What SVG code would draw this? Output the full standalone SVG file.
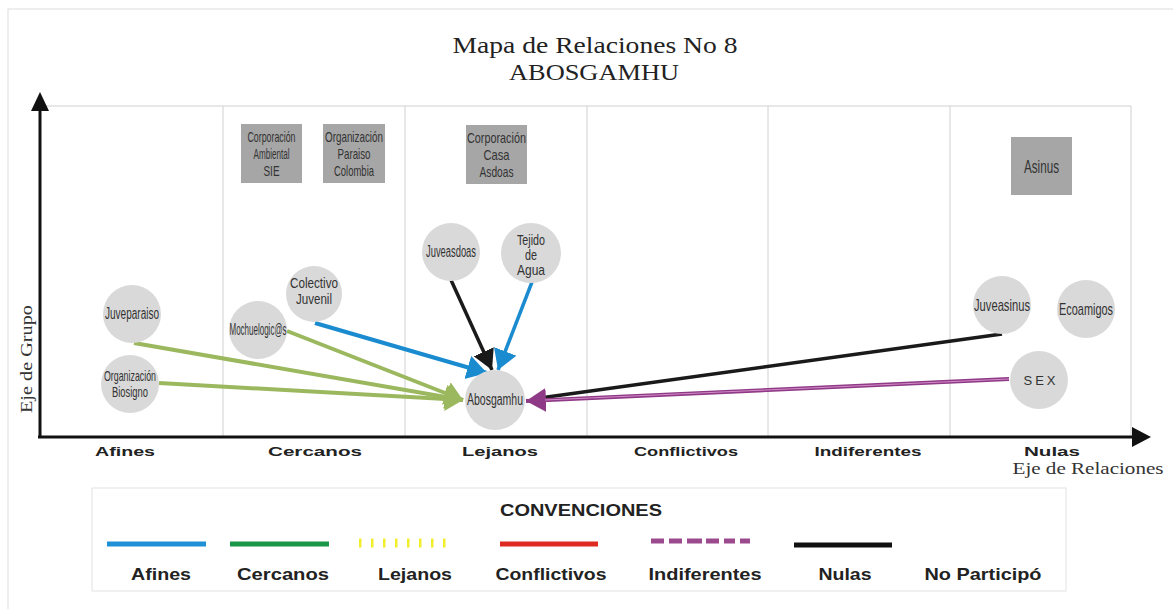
<svg xmlns="http://www.w3.org/2000/svg" width="1173" height="609" viewBox="0 0 1173 609">
<defs>
<style>
.title{font-family:"Liberation Serif",serif;font-size:23px;fill:#222}
.axis{font-family:"Liberation Serif",serif;font-size:17px;fill:#333}
.col{font-family:"Liberation Sans",Arial,sans-serif;font-size:13.5px;font-weight:bold;fill:#222}
.grid{stroke:#d0d0d0;stroke-width:1;fill:none}
.circ{fill:#d9d9d9}
.box{fill:#a6a6a6}
.nt{font-family:"Liberation Sans Narrow","Liberation Sans",Arial,sans-serif;font-size:14.5px;fill:#333;text-anchor:middle}
.big{font-size:16px}
.leg{font-family:"Liberation Sans",Arial,sans-serif;font-size:17px;font-weight:bold;fill:#222;text-anchor:middle}
</style>
<marker id="hGreen" markerUnits="userSpaceOnUse" markerWidth="20" markerHeight="26" refX="18" refY="12" orient="auto"><path d="M0,0 L18,12 L0,24 Z" fill="#9bb85f"/></marker>
<marker id="hBlue" markerUnits="userSpaceOnUse" markerWidth="22" markerHeight="26" refX="20" refY="12" orient="auto"><path d="M0,0 L20,12 L0,24 Z" fill="#1b8bd0"/></marker>
<marker id="hBlack" markerUnits="userSpaceOnUse" markerWidth="22" markerHeight="26" refX="20" refY="11" orient="auto"><path d="M0,0 L20,11 L0,22 Z" fill="#1a1a1a"/></marker>
<marker id="hPurple" markerUnits="userSpaceOnUse" markerWidth="22" markerHeight="26" refX="20" refY="12" orient="auto"><path d="M0,0 L20,12 L0,24 Z" fill="#8e3a86"/></marker>
</defs>
<rect x="0" y="0" width="1173" height="609" fill="#fff"/>
<rect x="8" y="9" width="1200" height="700" fill="none" stroke="#dedede" stroke-width="1"/>

<g id="title">
<text class="title" x="595" y="53" text-anchor="middle" textLength="285" lengthAdjust="spacingAndGlyphs">Mapa de Relaciones No 8</text>
<text class="title" x="594" y="80" text-anchor="middle" textLength="170" lengthAdjust="spacingAndGlyphs">ABOSGAMHU</text>
</g>

<g id="grid">
<line class="grid" x1="44" y1="106" x2="1131" y2="106"/>
<line class="grid" x1="223" y1="106" x2="223" y2="437"/>
<line class="grid" x1="405" y1="106" x2="405" y2="437"/>
<line class="grid" x1="587" y1="106" x2="587" y2="437"/>
<line class="grid" x1="768" y1="106" x2="768" y2="437"/>
<line class="grid" x1="950" y1="106" x2="950" y2="437"/>
<line class="grid" x1="1131" y1="106" x2="1131" y2="437"/>
</g>

<g id="axes">
<line x1="40" y1="438" x2="40" y2="105" stroke="#111" stroke-width="3"/>
<path d="M40,92 L49,111 L31,111 Z" fill="#111"/>
<line x1="38" y1="437" x2="1136" y2="437" stroke="#111" stroke-width="3"/>
<path d="M1151,437 L1132,427 L1132,447 Z" fill="#111"/>
<text class="col" x="125" y="456" text-anchor="middle" textLength="60" lengthAdjust="spacingAndGlyphs">Afines</text>
<text class="col" x="315" y="456" text-anchor="middle" textLength="94" lengthAdjust="spacingAndGlyphs">Cercanos</text>
<text class="col" x="500" y="456" text-anchor="middle" textLength="76" lengthAdjust="spacingAndGlyphs">Lejanos</text>
<text class="col" x="686" y="456" text-anchor="middle" textLength="104" lengthAdjust="spacingAndGlyphs">Conflictivos</text>
<text class="col" x="868" y="456" text-anchor="middle" textLength="107" lengthAdjust="spacingAndGlyphs">Indiferentes</text>
<text class="col" x="1052" y="456" text-anchor="middle" textLength="56" lengthAdjust="spacingAndGlyphs">Nulas</text>
<text class="axis" x="1088" y="474" text-anchor="middle" textLength="151" lengthAdjust="spacingAndGlyphs">Eje de Relaciones</text>
<text class="axis" x="0" y="0" text-anchor="middle" textLength="108" lengthAdjust="spacingAndGlyphs" transform="translate(32,359) rotate(-90)">Eje de Grupo</text>
</g>

<g id="n-corp-sie"><rect class="box" x="241" y="124" width="61" height="59"/>
<text class="nt" x="271.5" y="142" textLength="48" lengthAdjust="spacingAndGlyphs">Corporación</text>
<text class="nt" x="271.5" y="159" textLength="36" lengthAdjust="spacingAndGlyphs">Ambiental</text>
<text class="nt" x="271.5" y="176" textLength="16" lengthAdjust="spacingAndGlyphs">SIE</text></g>
<g id="n-org-paraiso"><rect class="box" x="323" y="124" width="62" height="59"/>
<text class="nt" x="354" y="142" textLength="58" lengthAdjust="spacingAndGlyphs">Organización</text>
<text class="nt" x="354" y="159" textLength="33" lengthAdjust="spacingAndGlyphs">Paraiso</text>
<text class="nt" x="354" y="176" textLength="40" lengthAdjust="spacingAndGlyphs">Colombia</text></g>
<g id="n-corp-casa"><rect class="box" x="466" y="125" width="61" height="59"/>
<text class="nt" x="496.5" y="143" textLength="59" lengthAdjust="spacingAndGlyphs">Corporación</text>
<text class="nt" x="496.5" y="160" textLength="26" lengthAdjust="spacingAndGlyphs">Casa</text>
<text class="nt" x="496.5" y="177" textLength="34" lengthAdjust="spacingAndGlyphs">Asdoas</text></g>
<g id="n-asinus"><rect class="box" x="1011" y="137" width="61" height="58"/>
<text class="nt" x="1041.5" y="173" style="font-size:19px" textLength="35" lengthAdjust="spacingAndGlyphs">Asinus</text></g>

<g id="connectors" fill="none" stroke-linecap="butt">
<line x1="134" y1="343" x2="463" y2="400" stroke="#9bb85f" stroke-width="4" marker-end="url(#hGreen)"/>
<line x1="159" y1="383" x2="463" y2="400" stroke="#9bb85f" stroke-width="4" marker-end="url(#hGreen)"/>
<line x1="287" y1="331" x2="463" y2="400" stroke="#9bb85f" stroke-width="4" marker-end="url(#hGreen)"/>
<line x1="315" y1="323" x2="487" y2="373" stroke="#1b8bd0" stroke-width="4" marker-end="url(#hBlue)"/>
<line x1="532" y1="282" x2="498" y2="370" stroke="#1b8bd0" stroke-width="3.5" marker-end="url(#hBlue)"/>
<line x1="451" y1="280" x2="492" y2="370" stroke="#1a1a1a" stroke-width="3.5" marker-end="url(#hBlack)"/>
<line x1="1002" y1="334" x2="540" y2="398" stroke="#1a1a1a" stroke-width="3.5"/>
<line x1="1009" y1="379" x2="526" y2="401" stroke="#8e3a86" stroke-width="4" marker-end="url(#hPurple)"/>
<line x1="1009" y1="379" x2="545" y2="400" stroke="#d48cc6" stroke-width="1"/>
</g>

<g id="n-juveparaiso"><circle class="circ" cx="132" cy="314" r="29"/><text class="nt big" x="132" y="319" textLength="54" lengthAdjust="spacingAndGlyphs">Juveparaiso</text></g>
<g id="n-biosigno"><circle class="circ" cx="130" cy="384" r="29"/>
<text class="nt" x="130" y="381" textLength="52" lengthAdjust="spacingAndGlyphs">Organización</text>
<text class="nt" x="130" y="397" textLength="36" lengthAdjust="spacingAndGlyphs">Biosigno</text></g>
<g id="n-mochuelogicas"><circle class="circ" cx="258" cy="330" r="29"/><text class="nt big" x="258" y="335" textLength="57" lengthAdjust="spacingAndGlyphs">Mochuelogic@s</text></g>
<g id="n-colectivo"><circle class="circ" cx="314" cy="294" r="28"/>
<text class="nt" x="314" y="288" textLength="48" lengthAdjust="spacingAndGlyphs">Colectivo</text>
<text class="nt" x="314" y="304" textLength="36" lengthAdjust="spacingAndGlyphs">Juvenil</text></g>
<g id="n-juveasdoas"><circle class="circ" cx="451" cy="252" r="29"/><text class="nt big" x="451" y="257" textLength="50" lengthAdjust="spacingAndGlyphs">Juveasdoas</text></g>
<g id="n-tejido"><circle class="circ" cx="531" cy="253" r="30"/>
<text class="nt" x="531" y="245" textLength="28" lengthAdjust="spacingAndGlyphs">Tejido</text>
<text class="nt" x="531" y="260" textLength="12" lengthAdjust="spacingAndGlyphs">de</text>
<text class="nt" x="531" y="275" textLength="28" lengthAdjust="spacingAndGlyphs">Agua</text></g>
<g id="n-abosgamhu"><circle class="circ" cx="495" cy="400" r="30"/><text class="nt big" x="495" y="405" textLength="56" lengthAdjust="spacingAndGlyphs">Abosgamhu</text></g>
<g id="n-juveasinus"><circle class="circ" cx="1002" cy="305" r="29"/><text class="nt" x="1002" y="311" style="font-size:17px" textLength="56" lengthAdjust="spacingAndGlyphs">Juveasinus</text></g>
<g id="n-ecoamigos"><circle class="circ" cx="1086" cy="309" r="29"/><text class="nt" x="1086" y="315" style="font-size:17px" textLength="54" lengthAdjust="spacingAndGlyphs">Ecoamigos</text></g>
<g id="n-sex"><circle class="circ" cx="1039" cy="380" r="29"/><text class="nt" x="1041" y="385" style="font-size:13px;letter-spacing:3px">SEX</text></g>

<g id="legend">
<rect x="92" y="488" width="974" height="103" fill="#fff" stroke="#e2e2e2" stroke-width="1"/>
<text class="leg" x="581" y="516" textLength="162" lengthAdjust="spacingAndGlyphs">CONVENCIONES</text>
<line x1="107" y1="544" x2="206" y2="544" stroke="#1e90d6" stroke-width="5"/>
<line x1="230" y1="544" x2="329" y2="544" stroke="#1a9648" stroke-width="5"/>
<line x1="359" y1="543" x2="457" y2="543" stroke="#f2ee2a" stroke-width="9" stroke-dasharray="2.5 9.5 2.5 9.5 2.5 9.5 2.5 9.5 2.5 9.5 2.5 9.5 2.5 9.5 2.5 14 2.5 20"/>
<line x1="500" y1="544" x2="598" y2="544" stroke="#df2a22" stroke-width="5"/>
<line x1="651" y1="541" x2="750" y2="541" stroke="#9b4a8d" stroke-width="5" stroke-dasharray="13 5 13 5 15 4 13 5 11 5"/>
<line x1="794" y1="545" x2="892" y2="545" stroke="#111" stroke-width="5"/>
<text class="leg" x="161" y="580" textLength="60" lengthAdjust="spacingAndGlyphs">Afines</text>
<text class="leg" x="283" y="580" textLength="92" lengthAdjust="spacingAndGlyphs">Cercanos</text>
<text class="leg" x="415" y="580" textLength="74" lengthAdjust="spacingAndGlyphs">Lejanos</text>
<text class="leg" x="551" y="580" textLength="111" lengthAdjust="spacingAndGlyphs">Conflictivos</text>
<text class="leg" x="705" y="580" textLength="113" lengthAdjust="spacingAndGlyphs">Indiferentes</text>
<text class="leg" x="845" y="580" textLength="53" lengthAdjust="spacingAndGlyphs">Nulas</text>
<text class="leg" x="983" y="580" textLength="117" lengthAdjust="spacingAndGlyphs">No Participó</text>
</g>
</svg>
